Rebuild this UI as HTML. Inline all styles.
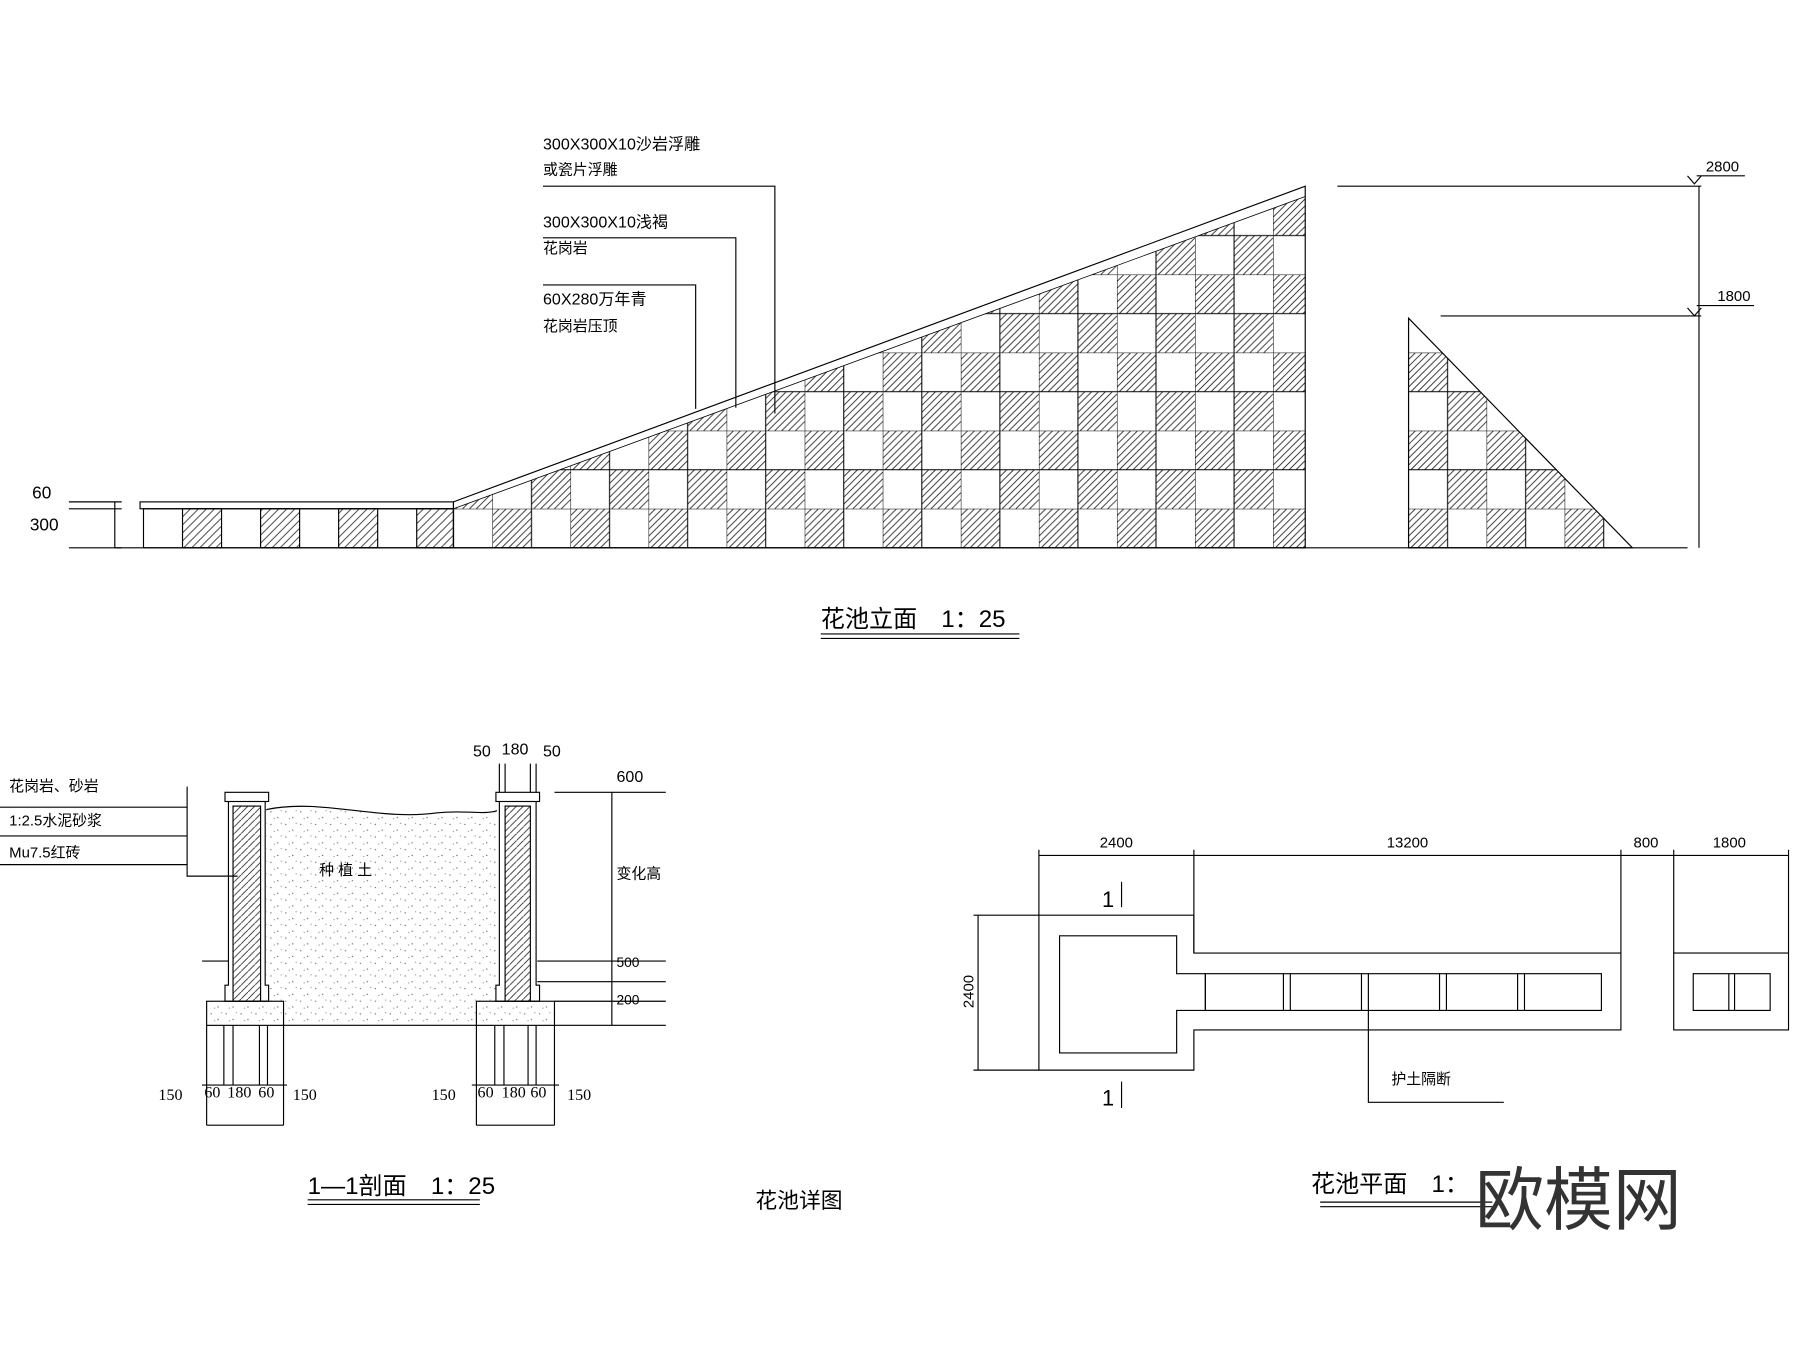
<!DOCTYPE html>
<html><head><meta charset="utf-8"><style>html,body{margin:0;padding:0;background:#fff}svg{display:block}</style></head>
<body>
<svg width="1800" height="1347" viewBox="0 0 1568 1173" xmlns="http://www.w3.org/2000/svg" font-family="'Liberation Sans','Noto Sans CJK SC',sans-serif">
<defs>
<pattern id="h" patternUnits="userSpaceOnUse" width="7" height="7"><path d="M-1,8 L8,-1 M-1,1 L1,-1 M6,8 L8,6" stroke="#333" stroke-width="0.8"/></pattern>
<pattern id="h2" patternUnits="userSpaceOnUse" width="6" height="6"><path d="M-1,7 L7,-1" stroke="#333" stroke-width="0.8"/></pattern>
<pattern id="dots" patternUnits="userSpaceOnUse" width="13" height="11"><circle cx="2" cy="3" r="0.6" fill="#666"/><circle cx="8" cy="8" r="0.6" fill="#666"/><circle cx="11" cy="2" r="0.5" fill="#888"/><circle cx="5" cy="9" r="0.5" fill="#888"/></pattern>
<g id="tile">
<path d="M0,6L6,0M0,12L12,0M0,18L18,0M0,24L24,0M0,30L30,0M2,34L34,2M8,34L34,8M14,34L34,14M20,34L34,20M26,34L34,26" stroke="#333" stroke-width="0.8"/>
<path d="M34,40L40,34M34,46L46,34M34,52L52,34M34,58L58,34M34,64L64,34M36,68L68,36M42,68L68,42M48,68L68,48M54,68L68,54M60,68L68,60" stroke="#333" stroke-width="0.8"/>
<path d="M0,0H68M0,34H68M0,0V68M34,0V68" stroke="#000" stroke-width="0.9" fill="none"/>
</g>
<pattern id="chk" patternUnits="userSpaceOnUse" x="361" y="443" width="68" height="68"><use href="#tile"/></pattern>
<pattern id="chk2" patternUnits="userSpaceOnUse" x="1227" y="443" width="68" height="68"><use href="#tile"/></pattern>
</defs>
<g stroke="#000" fill="none" stroke-width="1">
<!-- low wall -->
<rect x="122" y="437" width="273" height="6"/>
<rect x="125" y="443" width="270" height="34"/>
<g fill="url(#h)" stroke="#000">
<rect x="159" y="443" width="34" height="34"/><rect x="227" y="443" width="34" height="34"/><rect x="295" y="443" width="34" height="34"/><rect x="363" y="443" width="32" height="34"/>
</g>
<!-- sloped wall -->
<polygon points="395,443 1137,171 1137,477 395,477" fill="url(#chk)" stroke="none"/>
<polygon points="395,437 1137,162 1137,477 395,477"/>
<polyline points="395,443 1137,171" stroke-width="0.7"/>
<polygon points="1227,277 1422,477 1227,477" fill="url(#chk2)"/>
<line x1="100" y1="477" x2="1422" y2="477"/>
<!-- dims left -->
<path d="M100,437V477M60,437H106M60,443H106M60,477H106"/>
<!-- dims right -->
<path d="M1480,162V477M1165,162H1482M1255,275H1482M1470,477H1422"/>
<path d="M1470,153L1476,160L1482,153M1478,153H1520M1470,268L1476,275L1482,268M1478,266H1528"/>
<!-- leaders -->
<path d="M473,162H675V360M473,207H641V355M473,248H606V356"/>
<path d="M715,552H888M715,556H888"/>
</g>
<g font-size="15" fill="#000">
<text x="28" y="434">60</text><text x="26" y="462">300</text>
<text x="1486" y="149" font-size="13">2800</text><text x="1496" y="262" font-size="13">1800</text>
<text x="473" y="130" font-size="14">300X300X10沙岩浮雕</text>
<text x="473" y="152" font-size="13">或瓷片浮雕</text>
<text x="473" y="198" font-size="14">300X300X10浅褐</text>
<text x="473" y="220" font-size="13">花岗岩</text>
<text x="473" y="265" font-size="14">60X280万年青</text>
<text x="473" y="288" font-size="13">花岗岩压顶</text>
<text x="715" y="546" font-size="21">花池立面　1：25</text>
</g>
<!-- section -->
<g stroke="#000" fill="none" stroke-width="1">
<path d="M232,705 C280,695 330,715 380,708 C405,705 420,710 433,706 L433,872 L232,872Z" fill="url(#dots)" stroke="none"/>
<rect x="247" y="872" width="168" height="21" fill="url(#dots)" stroke="none"/>
<path d="M232,705 C280,695 330,715 380,708 C405,705 420,710 433,706"/>
<rect x="196" y="690" width="38" height="8"/><rect x="432" y="690" width="38" height="8"/>
<path d="M199,698V858H196V872H234V858H231V698" />
<path d="M435,698V858H432V872H470V858H467V698"/>
<rect x="203" y="702" width="24" height="170" fill="url(#h2)"/>
<rect x="440" y="702" width="22" height="170" fill="url(#h2)"/>
<rect x="180" y="872" width="67" height="21" fill="url(#dots)"/>
<rect x="415" y="872" width="68" height="21" fill="url(#dots)"/>
<path d="M247,893H415M483,872H580M483,893H580M468,837H580M468,855H580M176,837H199"/>
<path d="M483,690H580M533,690V893"/>
<path d="M0,703H163M0,728H163M0,753H163M163,685V763H207"/>
<path d="M180,893V980M195,893V945M203,893V945M226,893V945M233,893V945M247,893V980M176,945H250M180,980H247"/>
<path d="M415,893V980M431,893V945M439,893V945M460,893V945M467,893V945M483,893V980M411,945H487M415,980H483"/>
<path d="M435,665V690M440,665V690M462,665V690M467,665V690"/>
<path d="M268,1045H418M268,1049H418"/>
</g>
<g font-size="13" fill="#000">
<text x="8" y="689">花岗岩、砂岩</text><text x="8" y="719">1:2.5水泥砂浆</text><text x="8" y="747">Mu7.5红砖</text>
<text x="278" y="762">种 植 土</text>
<text x="412" y="659" font-size="14">50</text><text x="437" y="657" font-size="14">180</text><text x="473" y="659" font-size="14">50</text>
<text x="537" y="681" font-size="14">600</text><text x="537" y="765">变化高</text>
<text x="537" y="842" font-size="12">500</text><text x="537" y="875" font-size="12">200</text>
<g font-size="14" font-family="'Liberation Serif',serif"><text x="138" y="958">150</text><text x="178" y="956">60</text><text x="198" y="956">180</text><text x="225" y="956">60</text><text x="255" y="958">150</text>
<text x="376" y="958">150</text><text x="416" y="956">60</text><text x="437" y="956">180</text><text x="462" y="956">60</text><text x="494" y="958">150</text></g>
<text x="268" y="1040" font-size="21">1—1剖面　1：25</text>
<text x="658" y="1052" font-size="19">花池详图</text>
</g>
<!-- plan -->
<g stroke="#000" fill="none" stroke-width="1">
<path d="M905,745H1558M905,740V797M1040,740V830M1412,740V830M1458,740V830M1558,740V830"/>
<path d="M852,797V932M848,797H905M848,932H905"/>
<path d="M905,797H1040V830H1412V897H1040V932H905Z"/>
<path d="M923,815H1025V848H1050V880H1025V917H923Z"/>
<rect x="1050" y="848" width="345" height="32"/>
<path d="M1118,848V880M1124,848V880M1186,848V880M1192,848V880M1254,848V880M1260,848V880M1322,848V880M1328,848V880"/>
<rect x="1458" y="830" width="100" height="67"/>
<rect x="1475" y="848" width="67" height="32"/>
<path d="M1506,848V880M1511,848V880"/>
<path d="M977,768V790M977,942V965"/>
<path d="M1192,880V960H1310"/>
<path d="M1150,1047H1300M1150,1051H1300"/>
</g>
<g font-size="13" fill="#000">
<text x="958" y="738">2400</text><text x="1208" y="738">13200</text><text x="1423" y="738">800</text><text x="1492" y="738">1800</text>
<text x="848" y="878" transform="rotate(-90 848 878)">2400</text>
<text x="960" y="790" font-size="19">1</text><text x="960" y="963" font-size="19">1</text>
<text x="1212" y="944">护土隔断</text>
<text x="1142" y="1038" font-size="21">花池平面　1：</text>
<text x="1285" y="1066" font-size="60" fill="#333">欧模网</text>
</g>
</svg>
</body></html>
